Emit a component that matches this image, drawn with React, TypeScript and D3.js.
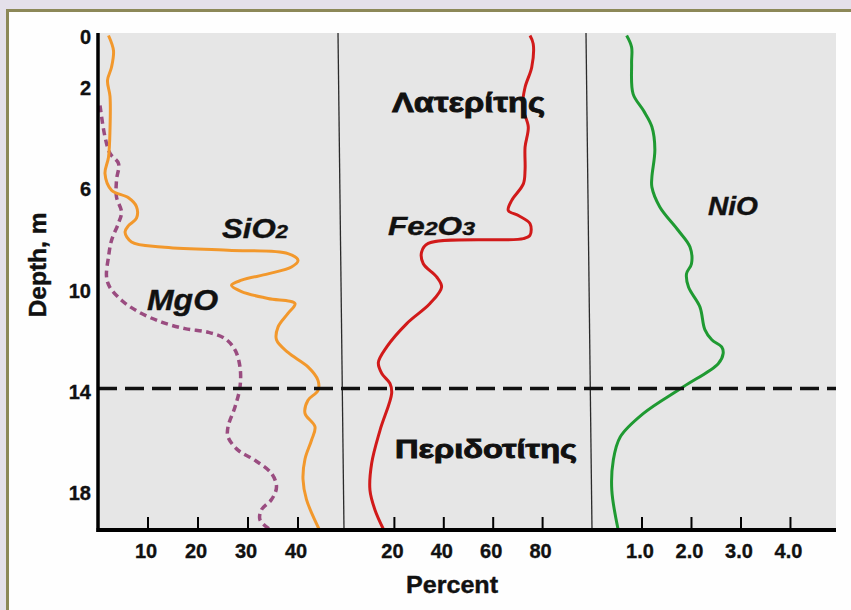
import React from "react";
import * as d3 from "d3";

// ---- data (depth in m, values in percent) ----
const sio2Depth = [0, 0.6, 1.25, 1.77, 2.4, 3.7, 4.8, 5.45, 6.1, 6.4, 6.75, 7.2, 7.5, 7.75, 8.14, 8.34, 8.47, 8.6, 8.87, 9.13, 9.4, 9.65, 9.85, 10.1, 10.37, 10.57, 10.96, 11.5, 12.0, 12.5, 13.07, 13.6, 14.0, 14.38, 14.9, 15.43, 15.96, 16.7, 17.5, 18.3, 19.5];
const sio2Values = [2.1, 3.1, 2.7, 1.9, 2.4, 2.4, 2.1, 1.4, 2.7, 6.1, 7.7, 7.7, 6.1, 5.4, 6.7, 12.7, 26, 38, 40, 38.7, 34, 28.7, 26.7, 28.7, 34, 39.4, 38, 36, 35.7, 38, 42, 44, 44, 42, 41.4, 43.4, 42.7, 41.4, 41, 41.7, 44.3];

const mgoDepth = [2.76, 4.0, 4.65, 5.05, 5.7, 6.37, 6.96, 7.4, 8.08, 8.73, 9.5, 9.9, 10.44, 10.9, 11.3, 11.56, 11.7, 11.95, 12.4, 13.07, 13.86, 14.65, 15.43, 15.83, 16.35, 16.75, 17.27, 17.8, 18.3, 18.7, 19.1, 19.5];
const mgoValues = [0.4, 1.4, 2.4, 4.1, 3.7, 3.7, 4.7, 4.1, 2.7, 2.1, 1.7, 2.3, 4.7, 8.1, 12.7, 17.4, 22, 25.4, 27.4, 28.4, 28.4, 27.4, 26, 26, 28, 31.4, 34.7, 35.7, 34.7, 32.7, 32.4, 34.5];

const fe2o3Depth = [0, 0.33, 1.25, 2.04, 2.82, 3.6, 4.4, 5.3, 5.85, 6.5, 6.9, 7.1, 7.42, 7.88, 8.01, 8.2, 8.54, 9.0, 9.52, 9.92, 10.57, 11.36, 12.28, 12.9, 13.33, 13.72, 14.1, 15.56, 16.87, 17.93, 18.7, 19.5];
const fe2o3Values = [74.9, 76.2, 75.6, 72.9, 71.9, 74.2, 72.9, 72.9, 72.2, 67.5, 66.1, 70.2, 74.9, 74.9, 72.2, 33.7, 31, 31.7, 37.1, 39.1, 34.4, 25, 16.9, 13.5, 14.9, 18.2, 18.9, 14.2, 10.8, 10.1, 12.1, 15.7];

const nioDepth = [0, 0.46, 1.1, 2.3, 2.96, 3.6, 4.5, 5.58, 5.98, 6.76, 7.68, 8.34, 9.0, 9.39, 9.92, 10.7, 11.6, 12.0, 12.28, 12.54, 12.94, 13.86, 14.9, 15.83, 16.75, 17.93, 19.5];
const nioValues = [0.69, 0.79, 0.79, 0.82, 1.03, 1.2, 1.26, 1.2, 1.2, 1.36, 1.73, 1.97, 2.0, 1.9, 1.94, 2.17, 2.27, 2.41, 2.61, 2.64, 2.54, 1.83, 1.03, 0.56, 0.42, 0.39, 0.52];

const depthTicks = [0, 2, 6, 10, 14, 18];
const panel1Ticks = [10, 20, 30, 40];
const panel2Ticks = [20, 40, 60, 80];
const panel3Ticks = [1, 2, 3, 4];
const boundaryDepth = 14;

const W = 851;
const H = 610;
const plotLeft = 98;
const plotRight = 836;
const plotTop = 33;
const plotBottom = 530;

const FONT = "'Liberation Sans', Arial, Helvetica, sans-serif";

export default function App() {
  const y = d3.scaleLinear().domain([0, 19.5]).range([35.5, 530]);
  const x1 = d3.scaleLinear().domain([0, 49]).range([98, 343]);
  const x2 = d3.scaleLinear().domain([0, 100]).range([345, 592]);
  const x3 = d3.scaleLinear().domain([0, 4.93]).range([592.5, 836.5]);

  const mkLine = (xs: d3.ScaleLinear<number, number>) =>
    d3
      .line<[number, number]>()
      .x((p) => xs(p[1]))
      .y((p) => y(p[0]))
      .curve(d3.curveCatmullRom.alpha(0.5));

  const zip = (a: number[], b: number[]) => a.map((d, i) => [d, b[i]] as [number, number]);

  const sio2Path = mkLine(x1)(zip(sio2Depth, sio2Values)) || "";
  const mgoPath = mkLine(x1)(zip(mgoDepth, mgoValues)) || "";
  const fePath = mkLine(x2)(zip(fe2o3Depth, fe2o3Values)) || "";
  const nioPath = mkLine(x3)(zip(nioDepth, nioValues)) || "";

  const tickLabelStyle = { fontFamily: FONT, fontWeight: 700, fontSize: 20, fill: "#111", stroke: "#111", strokeWidth: 0.35 } as const;

  const xTicks: { x: number; label: string }[] = [
    ...panel1Ticks.map((t) => ({ x: x1(t), label: String(t) })),
    ...panel2Ticks.map((t) => ({ x: x2(t), label: String(t) })),
    ...panel3Ticks.map((t) => ({ x: x3(t), label: t.toFixed(1) })),
  ];

  return (
    <svg
      width={W}
      height={H}
      style={{ position: "absolute", left: 0, top: 0, display: "block" }}
    >
      <rect x={0} y={0} width={W} height={H} fill="#e4e0ea" />
      <rect x={7.5} y={10.5} width={900} height={700} fill="#fefefe" stroke="#8c8858" strokeWidth={3} />
      <rect x={plotLeft} y={plotTop} width={plotRight - plotLeft} height={plotBottom - plotTop} fill="#e6e6e6" />

      {/* panel separators */}
      <line x1={338} y1={plotTop} x2={344} y2={plotBottom} stroke="#2a2a2a" strokeWidth={1.3} />
      <line x1={586} y1={plotTop} x2={592} y2={plotBottom} stroke="#2a2a2a" strokeWidth={1.3} />

      {/* curves */}
      <path d={mgoPath} fill="none" stroke="#9a4c80" strokeWidth={3.5} strokeDasharray="7 4.5" />
      <path d={sio2Path} fill="none" stroke="#f2982c" strokeWidth={3} strokeLinejoin="round" />
      <path d={fePath} fill="none" stroke="#d11a1a" strokeWidth={3} strokeLinejoin="round" />
      <path d={nioPath} fill="none" stroke="#1f9a32" strokeWidth={3} strokeLinejoin="round" />

      {/* boundary */}
      <line
        x1={plotLeft}
        x2={plotRight}
        y1={y(boundaryDepth) - 2}
        y2={y(boundaryDepth) - 2}
        stroke="#111"
        strokeWidth={3.5}
        strokeDasharray="19 8"
      />

      {/* axes */}
      <line x1={plotLeft} y1={plotTop} x2={plotLeft} y2={plotBottom + 2} stroke="#000" strokeWidth={3.5} />
      <line x1={plotLeft - 1.5} y1={plotBottom} x2={plotRight} y2={plotBottom} stroke="#000" strokeWidth={4} />
      {xTicks.map((t, i) => (
        <g key={i}>
          <line x1={t.x} x2={t.x} y1={plotBottom - 13} y2={plotBottom} stroke="#000" strokeWidth={2} />
          <text x={t.x - 2} y={557.5} textAnchor="middle" style={tickLabelStyle}>
            {t.label}
          </text>
        </g>
      ))}
      {depthTicks.map((t) => (
        <text key={t} x={91} y={y(t) + 1.5} textAnchor="end" dominantBaseline="central" style={tickLabelStyle}>
          {t}
        </text>
      ))}

      <text x={452} y={593} textAnchor="middle" style={{ fontFamily: FONT, fontWeight: 700, fontSize: 23, fill: "#111", stroke: "#111", strokeWidth: 0.4 }} textLength={92} lengthAdjust="spacingAndGlyphs">
        Percent
      </text>
      <text
        transform="translate(46,265) rotate(-90)"
        textAnchor="middle"
        style={{ fontFamily: FONT, fontWeight: 700, fontSize: 23, fill: "#111", stroke: "#111", strokeWidth: 0.4 }}
        textLength={105}
        lengthAdjust="spacingAndGlyphs"
      >
        Depth, m
      </text>

      {/* series labels */}
      <g style={{ fontFamily: FONT, fontWeight: 700, fontStyle: "italic", fill: "#111", stroke: "#111", strokeWidth: 0.4 }}>
        <text x={222} y={238} fontSize={27} textLength={66} lengthAdjust="spacingAndGlyphs">
          SiO<tspan fontSize={19}>2</tspan>
        </text>
        <text x={147} y={310} fontSize={29} textLength={71} lengthAdjust="spacingAndGlyphs">
          MgO
        </text>
        <text x={388} y={235} fontSize={26} textLength={87} lengthAdjust="spacingAndGlyphs">
          Fe<tspan fontSize={19}>2</tspan>O<tspan fontSize={19}>3</tspan>
        </text>
        <text x={708} y={215} fontSize={26} textLength={50} lengthAdjust="spacingAndGlyphs">
          NiO
        </text>
      </g>
      <g style={{ fontFamily: FONT, fontWeight: 700, fill: "#111", stroke: "#111", strokeWidth: 0.9 }}>
        <text x={392} y={112} fontSize={28} textLength={153} lengthAdjust="spacingAndGlyphs">
          Λατερίτης
        </text>
        <text x={395} y={458} fontSize={25} textLength={182} lengthAdjust="spacingAndGlyphs">
          Περιδοτίτης
        </text>
      </g>
    </svg>
  );
}
